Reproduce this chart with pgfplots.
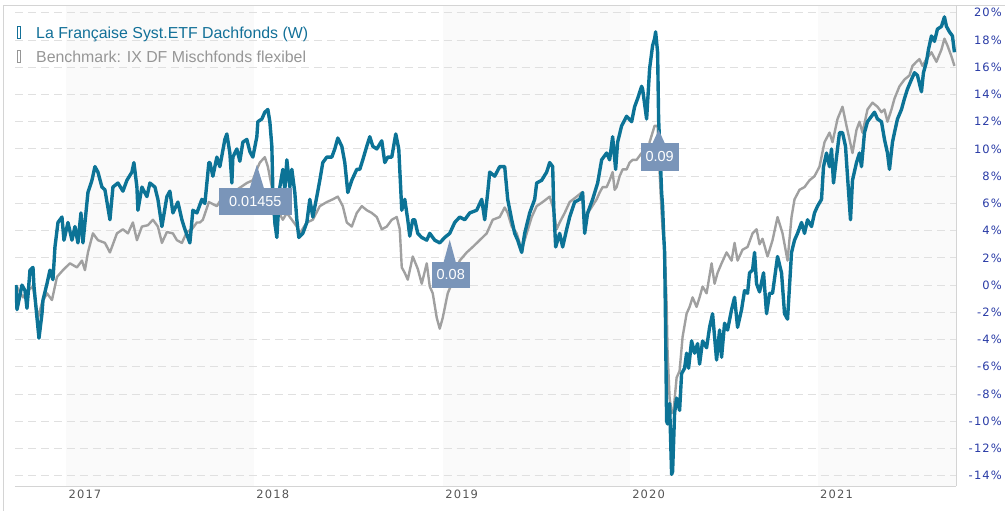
\documentclass[border=0pt]{standalone}
\usepackage{pgfplots}
\pgfplotsset{compat=1.18}
\usepackage{pgfplotstable}
\usepackage{fontspec}
\setmainfont{Liberation Sans}
\newfontfamily\tickfont[LetterSpace=10]{DejaVu Sans}
\definecolor{fundc}{RGB}{12,115,150}
\definecolor{benchc}{RGB}{160,160,160}
\definecolor{legblue}{RGB}{18,112,152}
\definecolor{leggray}{RGB}{150,150,150}
\definecolor{flagc}{RGB}{122,149,185}
\definecolor{ytickc}{RGB}{40,58,165}
\definecolor{xtickc}{RGB}{85,85,85}
\definecolor{bandc}{RGB}{250,250,250}
\definecolor{gridc}{RGB}{224,224,224}
\definecolor{linec}{RGB}{212,212,212}

% t = time index (2017-01-01 at 66, 2018 at 254, 2019 at 443, 2020 at 630, 2021 at 818); v = performance in %
\pgfplotstableread{
t v
16 0.0
17 -1.8
22 0.0
25 -0.4
27 -1.7
30 1.1
33 1.3
34 -0.1
37 -2.4
39 -3.9
42 -2.1
43 -1.1
47 0.1
50 1.1
53 0.4
55 2.8
58 4.6
62 5.0
64 3.3
68 4.6
72 3.3
75 4.3
78 3.1
81 5.3
83 3.1
88 6.8
92 7.7
95 8.7
98 8.3
102 7.2
105 7.0
110 4.8
113 7.2
118 7.5
123 6.9
127 7.7
132 8.3
134 9.0
137 7.2
138 5.5
142 7.2
147 6.5
150 7.5
155 7.2
158 6.3
162 4.3
167 6.5
170 6.9
173 5.3
178 6.1
182 4.8
185 4.1
190 3.1
193 5.5
197 5.3
202 6.3
205 6.0
209 9.0
210 9.0
213 8.0
217 9.4
220 8.7
225 10.7
227 11.1
230 9.7
232 7.5
233 9.4
237 10.0
240 9.1
243 10.5
247 10.7
250 9.8
253 9.4
257 10.9
258 12.0
262 12.2
265 12.7
268 12.9
270 12.0
272 10.2
273 7.0
275 4.6
277 3.5
280 7.2
283 8.5
285 7.0
287 9.2
290 7.2
292 8.5
295 6.8
297 4.8
299 3.5
303 3.8
307 4.6
310 6.3
313 5.0
317 6.5
320 7.7
323 9.0
327 9.4
332 9.4
335 10.0
338 10.8
342 10.2
345 9.0
348 6.8
352 7.7
357 8.5
360 8.5
363 9.2
367 10.2
370 10.9
373 10.2
377 10.0
382 10.6
385 9.0
388 9.4
392 9.4
396 11.1
399 10.0
402 5.5
405 6.3
408 4.8
410 3.6
413 4.8
415 4.8
418 3.8
422 3.5
427 3.3
430 3.8
435 3.3
440 3.1
445 3.5
450 3.8
455 4.6
460 5.0
465 4.8
470 5.3
477 5.5
482 6.3
485 4.8
488 6.8
490 8.3
495 8.0
500 8.7
505 8.7
508 6.3
512 4.8
515 3.8
518 3.3
522 2.4
525 3.8
530 5.3
535 6.3
537 7.5
542 7.7
547 8.3
550 9.0
553 8.7
554 5.8
556 2.8
560 3.8
563 2.8
567 4.1
570 5.0
575 6.1
580 6.3
583 6.8
585 3.8
588 5.3
593 6.3
598 7.5
602 9.2
607 9.7
610 9.2
613 10.9
616 8.5
618 10.5
622 11.7
627 12.4
632 12.0
635 13.1
638 13.7
642 14.6
643 14.4
647 12.2
650 15.9
653 17.6
655 18.1
656 18.6
658 17.1
659 12.2
661 8.7
662 6.8
663 5.8
664 3.8
665 2.4
666 -3.3
667 -10.0
668 -10.2
670 -8.7
672 -13.9
673 -13.7
675 -9.4
677 -8.3
680 -9.2
682 -6.5
685 -6.1
687 -5.0
689 -6.1
692 -4.1
695 -5.0
698 -4.3
700 -5.8
703 -4.1
707 -4.6
710 -3.1
713 -2.1
717 -5.5
720 -3.3
722 -5.3
725 -2.8
728 -3.3
732 -1.8
735 -0.9
738 -3.1
742 -1.8
745 -0.4
748 -0.6
750 0.9
753 1.1
755 2.4
757 0.1
760 -0.5
764 0.9
767 -2.1
770 -0.6
773 -0.6
778 2.1
782 0.9
785 -2.1
788 -2.5
792 2.4
795 3.3
798 3.8
802 4.6
805 3.8
808 4.8
812 4.3
815 5.3
818 5.8
822 6.3
824 8.7
827 9.7
830 8.7
832 10.0
834 7.5
837 9.4
840 11.2
843 11.2
846 10.2
848 8.0
851 4.8
853 7.7
857 9.0
860 9.7
862 8.7
865 11.2
868 12.0
872 12.4
875 12.7
878 12.2
882 12.0
885 10.7
888 9.7
890 8.5
893 10.5
895 11.2
898 12.2
902 12.9
905 13.7
908 14.4
912 15.1
915 15.6
918 15.4
922 14.2
924 15.6
927 16.4
929 17.3
932 18.3
935 17.9
938 18.8
942 19.0
945 19.7
947 19.0
950 18.6
953 18.3
955 17.1
}\fund

\pgfplotstableread{
t v
16 0.0
23 -0.9
28 -0.4
33 -0.1
38 -2.4
42 -1.3
47 -0.6
52 -1.1
57 0.6
63 1.1
70 1.6
77 1.3
82 1.8
85 1.1
88 2.4
93 3.8
98 3.3
105 3.1
110 2.4
117 3.8
123 4.1
128 3.8
133 4.6
137 3.3
142 4.3
148 4.4
153 4.8
158 4.3
162 3.1
167 3.9
173 3.8
177 3.3
182 3.1
187 3.9
192 4.1
197 4.6
200 4.6
203 4.8
209 6.1
217 5.8
227 7.0
237 7.0
247 7.5
253 7.7
257 8.5
260 9.0
265 9.4
268 8.7
272 7.2
275 4.3
278 5.5
283 4.8
287 5.3
292 4.8
297 4.3
300 3.8
307 4.6
313 4.8
320 5.8
327 6.1
333 6.3
338 6.5
343 5.8
347 4.6
352 4.3
357 5.3
362 5.8
367 5.5
372 5.3
377 5.0
382 4.1
387 4.3
392 4.8
397 5.0
400 4.1
402 1.3
405 0.9
408 0.4
413 2.1
418 1.2
422 0.1
427 1.6
430 -0.1
433 -0.6
437 -2.4
440 -3.2
443 -2.4
448 -0.6
452 0.1
455 0.9
460 1.8
467 2.4
473 2.8
480 3.3
487 3.8
493 4.8
500 5.0
505 5.7
508 5.3
512 4.3
517 3.8
522 2.6
527 3.8
532 5.0
537 5.8
543 6.1
550 6.5
553 5.8
557 4.1
560 4.6
565 5.3
570 6.1
577 6.5
582 6.8
585 4.8
590 5.5
597 6.3
600 6.8
603 7.2
607 7.2
610 7.7
613 8.3
615 7.0
617 7.2
620 8.0
623 8.5
627 8.5
630 9.0
633 9.2
637 9.2
642 9.7
647 9.2
650 10.5
655 11.7
658 11.7
660 8.3
662 5.3
663 4.1
665 2.8
667 -1.3
668 -5.0
670 -8.3
672 -9.4
674 -9.2
677 -6.8
680 -6.3
683 -3.8
687 -2.1
690 -1.6
693 -0.9
697 -1.6
700 -0.9
703 -0.1
707 -0.6
712 1.6
715 0.1
718 0.9
722 1.6
727 2.4
732 1.8
735 3.1
738 1.8
743 2.6
748 2.8
753 3.8
757 4.1
760 3.0
763 3.4
768 2.1
773 3.3
778 5.0
783 3.8
788 1.8
792 5.0
795 6.3
800 7.0
805 7.2
810 7.7
815 8.0
820 8.7
825 10.5
830 11.2
833 10.5
838 12.2
843 13.1
847 11.7
850 10.7
853 9.7
857 11.4
860 12.0
863 11.2
868 12.9
873 13.4
878 13.1
882 12.7
885 12.9
888 12.0
892 12.9
895 13.7
900 14.6
905 15.1
910 15.4
913 16.1
917 16.4
920 16.6
923 16.1
927 16.6
932 17.1
937 16.4
942 17.3
945 18.1
948 17.6
952 16.8
955 16.1
}\bench

\begin{document}
\begin{tikzpicture}
\path (0pt,0pt) rectangle (1006pt,511pt);
\draw[linec, line width=1.2pt] (3.5pt,0pt) -- (3.5pt,505.5pt) -- (1006pt,505.5pt);
\begin{axis}[
  set layers,
  at={(15pt,24.5pt)}, anchor=south west,
  scale only axis, width=942pt, height=480.5pt,
  xmin=15, xmax=957, ymin=-14.77, ymax=20.5,
  axis x line*=bottom, axis y line*=right,
  axis line style={-, draw=linec, line width=1pt},
  xtick={66,254,443,630,818}, xticklabels={2017,2018,2019,2020,2021},
  xticklabel style={font=\tickfont\fontsize{11.5}{13}\selectfont, text=xtickc, xshift=19pt},
  ytick={-14,-12,...,20},
  yticklabels={-14\%,-12\%,-10\%,-8\%,-6\%,-4\%,-2\%,0\%,2\%,4\%,6\%,8\%,10\%,12\%,14\%,16\%,18\%,20\%},
  yticklabel style={font=\tickfont\fontsize{11.5}{13}\selectfont, text=ytickc, anchor=east, xshift=49pt},
  major tick length=0pt,
  ymajorgrids, grid style={draw=gridc, line width=1pt, dash pattern=on 8pt off 5pt},
]
\begin{pgfonlayer}{axis background}
\fill[bandc] (axis cs:66,-14.77) rectangle (axis cs:254,20.5);
\fill[bandc] (axis cs:443,-14.77) rectangle (axis cs:630,20.5);
\fill[bandc] (axis cs:818,-14.77) rectangle (axis cs:957,20.5);
\end{pgfonlayer}
\addplot[benchc, line width=2.4pt, line join=round, no markers] table[x=t, y=v] {\bench};
\addplot[fundc, line width=3.4pt, line join=round, no markers] table[x=t, y=v] {\fund};
% dividend flags
\fill[flagc] (axis cs:250,7.14) -- (axis cs:257,8.83) -- (axis cs:264,7.14) -- cycle;
\node[fill=flagc, text=white, font=\fontsize{14.5}{16}\selectfont, minimum width=73pt, minimum height=27pt, inner sep=0pt] at (axis cs:255.5,6.15) {0.01455};
\fill[flagc] (axis cs:444,1.71) -- (axis cs:450,3.33) -- (axis cs:456,1.71) -- cycle;
\node[fill=flagc, text=white, font=\fontsize{14.5}{16}\selectfont, minimum width=38pt, minimum height=26pt, inner sep=0pt] at (axis cs:451,0.76) {0.08};
\fill[flagc] (axis cs:653,10.45) -- (axis cs:659,11.40) -- (axis cs:665,10.45) -- cycle;
\node[fill=flagc, text=white, font=\fontsize{14.5}{16}\selectfont, minimum width=38pt, minimum height=28pt, inner sep=0pt] at (axis cs:660,9.42) {0.09};
\end{axis}
% legend
\draw[legblue, line width=0.8pt] (17pt,473pt) rectangle (20pt,485pt);
\node[anchor=base west, inner sep=0pt, text=legblue, font=\fontsize{15.9}{18}\selectfont] at (36pt,472pt) {La Française Syst.ETF Dachfonds (W)};
\draw[leggray, line width=0.8pt] (17pt,449pt) rectangle (20pt,461pt);
\node[anchor=base west, inner sep=0pt, text=leggray, font=\fontsize{15.9}{18}\selectfont] at (36pt,448pt) {Benchmark: IX DF Mischfonds flexibel};
\end{tikzpicture}
\end{document}
